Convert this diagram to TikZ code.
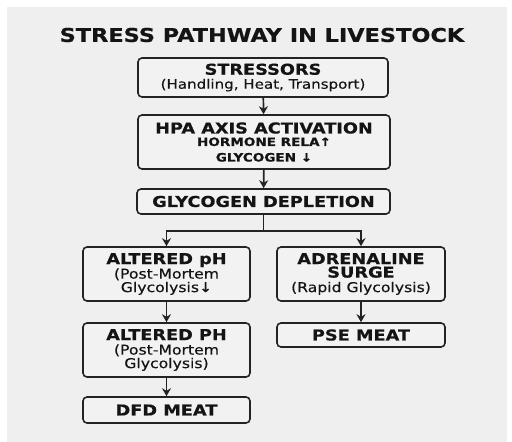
\documentclass[tikz,border=0pt]{standalone}
\usepackage{fontspec}
\setmainfont{DejaVu Sans}
\newfontfamily\headwide[FakeStretch=1.18,FakeBold=0.6]{DejaVu Sans Bold}
\newfontfamily\subwide[FakeStretch=1.16,FakeBold=0.4]{DejaVu Sans}
\usetikzlibrary{arrows.meta,positioning,calc}
\definecolor{panelgray}{RGB}{239,239,239}
\definecolor{boxfill}{RGB}{242,242,242}
\definecolor{inkline}{RGB}{35,35,35}
\definecolor{inktext}{RGB}{20,20,20}
\tikzset{
  % flow boxes
  flowbox/.style={draw=inkline, fill=boxfill, line width=1.6pt, rounded corners=4pt,
    align=center, inner sep=0pt, text=inktext, font=\fontsize{12}{13.5}\selectfont},
  % main arrows
  flowarr/.style={-{Stealth[length=8pt,width=9pt]}, line width=1.7pt, inkline},
  flowln/.style={line width=1.7pt, inkline},
}
\newcommand{\hd}[1]{{\headwide\fontsize{15}{16}\selectfont #1}}
\newcommand{\sbb}[1]{{\headwide\fontsize{11.5}{13}\selectfont #1}}
\newcommand{\sbr}[1]{{\subwide\fontsize{13.5}{15}\selectfont #1}}

\begin{document}
\begin{tikzpicture}[x=1pt,y=-1pt]
    \useasboundingbox (0,0) rectangle (512,442);
    % light panel
    \fill[panelgray] (7,7) rectangle (507,442);
    % title
    \node[text=inktext, font=\headwide\fontsize{19}{21}\selectfont] (title) at (262,35) {STRESS PATHWAY IN LIVESTOCK};
    % main column
    \node[flowbox, minimum width=250pt, minimum height=39pt] (stress) at (263,77.5)
      {\hd{STRESSORS}\\[0.5pt] {\subwide\fontsize{13}{14}\selectfont (Handling, Heat, Transport)}};
    \node[flowbox, minimum width=252pt, minimum height=54pt] (hpa) at (264,142)
      {\hd{HPA AXIS ACTIVATION}\\[-1pt] \sbb{HORMONE RELA↑}\\[2pt] \sbb{GLYCOGEN ↓}};
    \node[flowbox, minimum width=253pt, minimum height=25pt] (depl) at (263.5,201.5)
      {\hd{GLYCOGEN DEPLETION}};
    \coordinate (split) at (263.5,231);
    % left branch
    \node[flowbox, minimum width=167pt, minimum height=54pt] (alt1) at (166.5,274)
      {\hd{ALTERED pH}\\[1pt] \sbr{(Post-Mortem}\\ \sbr{Glycolysis↓}};
    \node[flowbox, minimum width=167pt, minimum height=54pt] (alt2) at (166.5,350)
      {\hd{ALTERED PH}\\[1pt] \sbr{(Post-Mortem}\\ \sbr{Glycolysis)}};
    \node[flowbox, minimum width=167pt, minimum height=26pt] (dfd) at (166.5,410)
      {\hd{DFD MEAT}};
    % right branch
    \node[flowbox, minimum width=168pt, minimum height=54pt] (adr) at (361,274)
      {\hd{ADRENALINE}\\ \hd{SURGE}\\[1pt] \sbr{(Rapid Glycolysis)}};
    \node[flowbox, minimum width=168pt, minimum height=24pt] (pse) at (361,335)
      {\hd{PSE MEAT}};
    % connectors
    \draw[flowarr] (stress) -- (hpa);
    \draw[flowarr] (hpa) -- (depl);
    \draw[flowln] (depl) -- (split);
    \draw[flowarr] (split) -| (alt1);
    \draw[flowarr] (split) -| (adr);
    \draw[flowarr] (alt1) -- (alt2);
    \draw[flowarr] (alt2) -- (dfd);
    \draw[flowarr] (adr) -- (pse);
\end{tikzpicture}
\end{document}
